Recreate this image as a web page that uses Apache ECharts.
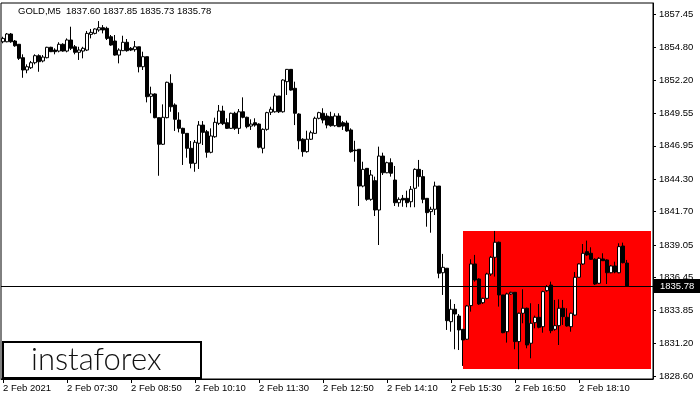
<!DOCTYPE html>
<html><head><meta charset="utf-8">
<script src="https://cdn.jsdelivr.net/npm/echarts@6/dist/echarts.min.js"></script>
<style>html,body{margin:0;padding:0;background:#fff}#c{width:700px;height:400px}</style>
</head><body><div id="c"></div>
<script>
const symbolName = 'GOLD,M5';
const opens = [
1855.24,1855.24,1855.86,1855.30,1855.04,1853.97,1852.99,1853.17,1853.57,1854.13,
1853.71,1853.97,1854.80,1854.58,1854.50,1855.04,1854.50,1855.38,1854.84,1854.40,
1854.50,1854.58,1855.83,1855.91,1856.18,1856.36,1856.31,1855.64,1855.30,1854.18,
1854.53,1855.20,1854.72,1854.61,1854.84,1853.25,1854.05,1850.89,1851.08,1849.19,
1847.07,1849.19,1851.93,1850.20,1849.00,1848.34,1847.94,1846.75,1845.55,1847.15,
1848.60,1848.07,1846.43,1847.67,1848.74,1849.72,1848.79,1848.34,1849.54,1848.34,
1849.66,1849.22,1848.52,1848.79,1848.68,1846.75,1848.26,1849.62,1849.66,1850.92,
1849.66,1852.06,1853.04,1851.53,1849.48,1847.47,1846.48,1847.47,1847.94,1849.14,
1849.54,1849.32,1849.27,1848.55,1849.32,1848.79,1848.76,1848.21,1846.61,1846.67,
1843.74,1845.15,1842.68,1844.17,1841.83,1846.13,1844.80,1845.60,1844.22,1842.41,
1842.76,1842.76,1842.49,1843.56,1845.07,1844.49,1842.76,1841.70,1841.89,1843.74,
1836.83,1837.19,1832.93,1833.92,1833.38,1832.32,1831.53,1834.21,1837.53,1836.33,
1834.44,1834.79,1836.73,1838.06,1839.26,1835.06,1832.13,1835.14,1835.27,1831.34,
1833.60,1834.00,1831.21,1832.85,1833.28,1832.53,1835.40,1835.85,1832.32,1832.61,
1834.00,1833.28,1832.53,1833.46,1836.47,1837.53,1838.51,1838.38,1837.90,1835.99,
1837.93,1837.85,1836.83,1837.37,1836.83,1838.96,1837.60];
const highs = [
1855.64,1855.94,1855.94,1855.38,1855.06,1854.24,1853.44,1853.71,1854.24,1854.24,
1854.18,1854.84,1854.84,1854.72,1855.20,1855.12,1855.51,1856.44,1854.98,1854.84,
1854.84,1856.10,1856.26,1856.31,1856.89,1856.57,1856.44,1855.78,1855.78,1854.72,
1855.72,1855.46,1854.82,1855.30,1854.84,1854.45,1854.05,1851.66,1851.13,1849.19,
1850.25,1852.06,1852.65,1850.33,1849.62,1848.39,1847.94,1847.33,1847.41,1848.92,
1848.92,1848.21,1848.34,1849.19,1850.20,1850.14,1849.14,1849.59,1849.66,1849.88,
1850.81,1849.27,1849.06,1849.14,1848.74,1848.34,1849.66,1850.06,1851.13,1850.92,
1852.25,1853.07,1853.04,1852.06,1849.54,1847.55,1848.15,1848.15,1849.27,1849.66,
1849.94,1849.54,1849.66,1849.54,1849.54,1848.92,1848.95,1848.34,1847.35,1846.67,
1845.68,1845.15,1845.02,1844.49,1846.88,1846.40,1845.68,1845.95,1845.34,1842.84,
1843.03,1843.37,1843.74,1845.15,1845.82,1845.02,1842.76,1842.09,1844.09,1843.74,
1838.33,1837.19,1834.71,1834.34,1833.54,1832.32,1834.26,1837.90,1838.25,1836.39,
1834.84,1836.83,1838.17,1840.16,1839.31,1835.06,1835.24,1835.32,1835.27,1833.65,
1835.51,1834.05,1834.40,1833.41,1834.34,1835.40,1835.85,1836.12,1834.66,1834.71,
1834.66,1834.00,1833.65,1836.89,1837.58,1839.12,1839.39,1838.86,1837.98,1838.06,
1838.38,1837.90,1837.45,1837.71,1839.18,1839.23,1837.85];
const lows = [
1855.12,1855.20,1855.16,1854.84,1853.79,1852.37,1852.73,1853.07,1853.44,1852.85,
1853.60,1853.92,1854.42,1854.24,1854.40,1854.45,1854.40,1854.58,1854.24,1853.79,
1853.92,1854.50,1855.51,1855.83,1856.04,1855.91,1855.38,1854.92,1854.13,1853.52,
1854.50,1854.45,1854.50,1854.45,1852.80,1852.99,1850.41,1849.54,1849.14,1844.56,
1847.01,1849.14,1849.66,1848.13,1848.02,1845.42,1846.00,1845.15,1844.88,1845.10,
1847.01,1846.00,1846.35,1847.59,1848.60,1848.60,1848.29,1848.29,1848.21,1847.89,
1849.14,1848.34,1848.21,1848.47,1846.75,1846.35,1848.15,1849.40,1849.59,1849.56,
1849.59,1851.00,1851.34,1848.60,1846.67,1846.08,1846.40,1847.41,1847.89,1849.06,
1848.74,1848.34,1848.47,1848.47,1848.45,1848.21,1848.07,1846.40,1845.68,1842.15,
1843.64,1842.57,1842.57,1841.35,1839.04,1844.62,1844.76,1844.49,1842.15,1842.09,
1842.09,1842.05,1842.05,1842.05,1843.69,1842.37,1840.50,1840.02,1841.43,1836.39,
1835.06,1832.27,1832.13,1830.73,1830.67,1829.40,1831.47,1833.73,1836.12,1834.26,
1834.34,1834.71,1836.57,1836.52,1834.13,1832.01,1831.26,1835.06,1830.73,1829.14,
1832.80,1830.81,1830.01,1832.40,1832.40,1832.05,1835.32,1832.01,1832.21,1831.07,
1832.67,1832.53,1832.13,1833.38,1836.47,1837.45,1838.17,1837.85,1835.85,1835.93,
1837.77,1835.93,1836.79,1836.79,1836.79,1837.58,1835.73];
const closes = [
1855.51,1855.86,1855.24,1854.92,1853.92,1852.99,1853.25,1853.57,1854.13,1853.65,
1854.02,1854.80,1854.45,1854.45,1855.04,1854.50,1855.38,1854.72,1854.40,1854.58,
1854.72,1855.91,1855.99,1856.26,1856.36,1856.18,1855.51,1854.98,1854.18,1854.58,
1855.20,1854.53,1854.58,1854.84,1853.25,1854.05,1850.86,1851.08,1849.19,1847.07,
1849.22,1852.01,1850.06,1849.06,1848.34,1847.94,1846.75,1845.55,1847.23,1848.60,
1848.02,1846.43,1847.73,1848.82,1849.72,1848.71,1848.34,1849.54,1848.34,1849.66,
1849.22,1848.47,1848.68,1848.60,1846.83,1848.26,1849.59,1849.86,1850.92,1849.66,
1852.19,1853.04,1851.39,1849.54,1847.35,1846.48,1847.47,1847.99,1849.14,1849.59,
1849.00,1848.60,1848.55,1849.32,1848.47,1848.52,1848.13,1846.48,1846.56,1843.74,
1845.07,1842.68,1844.62,1841.83,1846.13,1844.80,1845.60,1844.76,1842.41,1842.68,
1842.63,1842.41,1843.48,1845.07,1844.49,1842.68,1841.62,1841.89,1843.74,1836.79,
1837.26,1833.01,1833.92,1833.54,1832.27,1831.47,1834.18,1837.53,1836.25,1834.34,
1834.79,1836.73,1838.06,1839.26,1835.06,1832.05,1835.14,1835.27,1831.34,1833.60,
1834.00,1831.07,1832.80,1833.28,1832.48,1835.32,1835.72,1832.21,1832.61,1834.00,
1833.33,1832.59,1833.60,1836.47,1837.53,1838.38,1838.25,1837.90,1835.93,1837.98,
1837.79,1836.83,1837.37,1836.89,1838.91,1837.63,1835.78];
const startMinuteOfDay = 6 * 60 + 10;
const barMinutes = 5;
const emptyBarsRight = 6;
const timeTickLabels = ['2 Feb 2021','2 Feb 07:30','2 Feb 08:50','2 Feb 10:10','2 Feb 11:30','2 Feb 12:50','2 Feb 14:10','2 Feb 15:30','2 Feb 16:50','2 Feb 18:10'];
const timeTickEvery = 16;
const priceTicks = [1828.60,1831.20,1833.85,1836.45,1839.05,1841.70,1844.30,1846.95,1849.55,1852.20,1854.80,1857.45];
const priceMin = 1828.36, priceMax = 1858.33;
const lastPrice = 1835.78;
const zoneTop = 1840.16, zoneBottom = 1829.16, zoneStartBar = 115;

const categories = [];
for (let i = 0; i < opens.length + emptyBarsRight; i++) {
  const t = startMinuteOfDay + i * barMinutes;
  categories.push(String(Math.floor(t / 60)).padStart(2, '0') + ':' + String(t % 60).padStart(2, '0'));
}
const candleData = opens.map((o, i) => [o, closes[i], lows[i], highs[i]]);
const n = opens.length - 1;
const titleText = symbolName + '  ' + [opens[n], highs[n], lows[n], closes[n]].map(v => v.toFixed(2)).join(' ');
const showTick = (idx) => idx % timeTickEvery === 0 && idx / timeTickEvery < timeTickLabels.length;
const FONT = '"Liberation Sans", Arial, sans-serif';

const chart = echarts.init(document.getElementById('c'), null, {renderer: 'canvas'});
chart.setOption({
  animation: false,
  backgroundColor: '#ffffff',
  grid: {left: 1, right: 47, top: 3, bottom: 21, show: true, borderColor: '#000', borderWidth: 1, backgroundColor: 'transparent'},
  xAxis: {
    type: 'category', data: categories, boundaryGap: true,
    axisLine: {show: true, lineStyle: {color: '#000', width: 1}},
    axisTick: {show: true, alignWithLabel: true, interval: showTick, length: 4, lineStyle: {color: '#000'}},
    axisLabel: {interval: showTick, formatter: (v, idx) => timeTickLabels[idx / timeTickEvery] || '', align: 'left', color: '#000', fontSize: 9.5, fontFamily: FONT, margin: 4},
    splitLine: {show: false}
  },
  yAxis: {
    type: 'value', position: 'right', min: priceMin, max: priceMax,
    axisLine: {show: true, lineStyle: {color: '#000', width: 1}},
    axisTick: {show: true, length: 3, customValues: priceTicks, lineStyle: {color: '#000'}},
    axisLabel: {customValues: priceTicks, formatter: v => Number(v).toFixed(2), color: '#000', fontSize: 9.5, fontFamily: FONT, margin: 6},
    splitLine: {show: false}
  },
  series: [
    {
      type: 'line', data: [], z: 1, silent: true,
      markArea: {silent: true, itemStyle: {color: '#ff0000', opacity: 1},
        data: [[{xAxis: categories[zoneStartBar], yAxis: zoneTop}, {xAxis: categories[categories.length - 1], yAxis: zoneBottom}]]}
    },
    {
      type: 'candlestick', z: 3, data: candleData, barWidth: 3,
      itemStyle: {color: '#ffffff', color0: '#000000', borderColor: '#000000', borderColor0: '#000000', borderWidth: 1},
      markLine: {
        silent: true, symbol: ['none', 'none'], animation: false,
        lineStyle: {color: '#000', width: 1, type: 'solid'},
        label: {show: true, position: 'end', formatter: lastPrice.toFixed(2), backgroundColor: '#000', color: '#fff', padding: [2, 6, 2, 6], fontSize: 9.5, fontFamily: FONT, distance: 1},
        data: [{yAxis: lastPrice}]
      }
    }
  ],
  graphic: [
    {type: 'text', left: 18, top: 6, z: 50, style: {text: titleText, fill: '#000', font: '9.5px ' + FONT}},
    {type: 'rect', z: 60, shape: {x: 3, y: 342, width: 198, height: 36}, style: {fill: '#fff', stroke: '#000', lineWidth: 2}},
    {type: 'text', z: 61, x: 31, y: 360, style: {text: 'instaforex', fill: '#111', font: '300 31px Lato, "Liberation Sans", sans-serif', align: 'left', verticalAlign: 'middle'}}
  ]
});
</script></body></html>
